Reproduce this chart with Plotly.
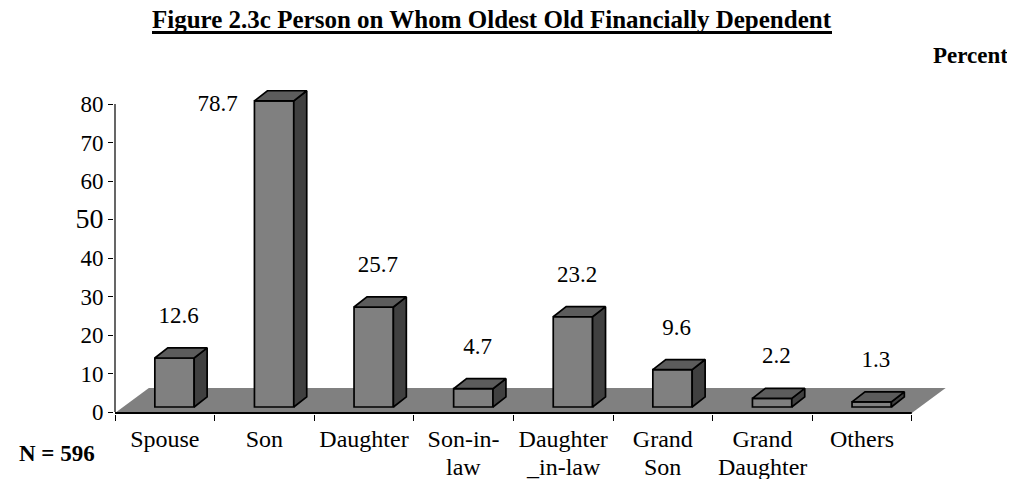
import plotly.graph_objects as go

# ---------------- data ----------------
categories = ["Spouse", "Son", "Daughter", "Son-in-<br>law", "Daughter<br>_in-law",
              "Grand<br>Son", "Grand<br>Daughter", "Others"]
values = [12.6, 78.7, 25.7, 4.7, 23.2, 9.6, 2.2, 1.3]
value_labels = ["12.6", "78.7", "25.7", "4.7", "23.2", "9.6", "2.2", "1.3"]
y_tick_values = [0, 10, 20, 30, 40, 50, 60, 70, 80]
y_tick_labels = ["0", "10", "20", "30", "40",
                 '<span style="font-size:28px">50</span>', "60", "70", "80"]
title_text = "Figure 2.3c Person on Whom Oldest Old Financially Dependent"
unit_text = "Percent"
n_text = "N = 596"

# ---------------- geometry / style ----------------
W, H = 1015, 479
PAGE_OFF = 8                            # default body margin of the html page
L, R, T, B = 114, 950, 78, 414          # plot area in screen pixels
PX_X = 99.6                             # pixels per category
Y_ZERO, Y_SCALE = 412, 3.85             # visible axis: pixel of 0, px per unit
Y2_ZERO, Y2_SCALE = 407, 3.89           # bar axis
FONT = "Liberation Serif"
FRONT, TOP, SIDE = "#808080", "#5c5c5c", "#404040"
BAR_W, BAR_OFF = 0.395, -0.10
DX, DY = 0.13, 2.6                      # bar depth (x units, y2 units)
FLOOR_DX = 0.34
LABEL_DX, LABEL_DY = 0.14, 10.5
TITLE_SIZE = 25
TITLE_RIGHT = 832
TITLE_EM = 27.2                         # approximate width of the title in em
CAT_SIZE = 24
CAT_LINE2_Y = 467                       # screen pixel of second label lines

n = len(categories)
idx = list(range(n))
x0r = -0.5 - 1.0 / PX_X
x_range = [x0r, x0r + (R - L) / PX_X]
y_range = [-(B - Y_ZERO) / Y_SCALE, (Y_ZERO - T) / Y_SCALE]
y2_range = [-(B - Y2_ZERO) / Y2_SCALE, (Y2_ZERO - T) / Y2_SCALE]


def px_x(p):
    return (p - L) / (R - L)


def px_y(p):
    return (B - p) / (B - T)


first_lines = [c.split("<br>")[0] for c in categories]
second_lines = [c.split("<br>", 1)[1] if "<br>" in c else "" for c in categories]

fig = go.Figure()

# floor (parallelogram under the bars)
front_y = -(413 - Y_ZERO) / Y_SCALE
back_y = (Y_ZERO - 388) / Y_SCALE
xl, xr = -0.5, n - 0.5
fig.add_trace(go.Scatter(
    x=[xl, xr, xr + FLOOR_DX, xl + FLOOR_DX, xl],
    y=[front_y, front_y, back_y, back_y, front_y],
    fill="toself", fillcolor=FRONT, mode="lines", line=dict(width=0, color=FRONT),
    hoverinfo="skip", showlegend=False))
# x axis line (front edge of floor)
fig.add_trace(go.Scatter(x=[xl, xr], y=[front_y, front_y], mode="lines",
                         line=dict(color="black", width=2), hoverinfo="skip", showlegend=False))
# y axis line
fig.add_trace(go.Scatter(x=[xl, xl], y=[y_tick_values[0], y_tick_values[-1]], mode="lines",
                         line=dict(color="black", width=1.2), hoverinfo="skip", showlegend=False))

# bars (front faces)
fig.add_trace(go.Bar(x=idx, y=values, width=BAR_W, offset=BAR_OFF, yaxis="y2",
                     marker=dict(color=FRONT, line=dict(color="black", width=1.7)),
                     hoverinfo="skip", showlegend=False))

# side and top faces derived from the values
sx, sy, tx, ty = [], [], [], []
for i, v in zip(idx, values):
    a = i + BAR_OFF
    b = a + BAR_W
    sx += [b, b + DX, b + DX, b, b, None]
    sy += [0, DY, v + DY, v, 0, None]
    tx += [a, a + DX, b + DX, b, a, None]
    ty += [v, v + DY, v + DY, v, v, None]
fig.add_trace(go.Scatter(x=sx, y=sy, yaxis="y2", fill="toself", fillcolor=SIDE, mode="lines",
                         line=dict(color="black", width=1.7), hoverinfo="skip", showlegend=False))
fig.add_trace(go.Scatter(x=tx, y=ty, yaxis="y2", fill="toself", fillcolor=TOP, mode="lines",
                         line=dict(color="black", width=1.7), hoverinfo="skip", showlegend=False))

# value labels: above the bar, or to its left when there is no room above
lx, ly = [], []
for i, v in zip(idx, values):
    if v + LABEL_DY + 3 > y2_range[1]:
        lx.append(i - 0.47)
        ly.append(v - 1)
    else:
        lx.append(i + LABEL_DX)
        ly.append(v + LABEL_DY)
fig.add_trace(go.Scatter(x=lx, y=ly, yaxis="y2", mode="text", text=value_labels,
                         textfont=dict(family=FONT, size=23, color="black"),
                         hoverinfo="skip", showlegend=False, cliponaxis=False))

title_w = TITLE_EM * TITLE_SIZE
title_left = TITLE_RIGHT - title_w

annotations = [
    dict(text="<b>" + title_text + "</b>", x=px_x(title_left + title_w / 2), y=px_y(20),
         xref="paper", yref="paper", xanchor="center", yanchor="middle",
         showarrow=False, font=dict(family=FONT, size=TITLE_SIZE, color="black")),
    dict(text="<b>" + unit_text + "</b>", x=px_x(1010), y=px_y(55),
         xref="paper", yref="paper", xanchor="right", yanchor="middle",
         showarrow=False, font=dict(family=FONT, size=23, color="black")),
    dict(text="<b>" + n_text + "</b>", x=px_x(17), y=px_y(453),
         xref="paper", yref="paper", xanchor="left", yanchor="middle",
         showarrow=False, font=dict(family=FONT, size=23, color="black")),
]
# second lines of the wrapped category labels
for i, s in zip(idx, second_lines):
    if s:
        annotations.append(dict(text=s, x=i, xref="x", y=px_y(CAT_LINE2_Y), yref="paper",
                                xanchor="center", yanchor="middle", showarrow=False,
                                font=dict(family=FONT, size=CAT_SIZE, color="black")))

fig.update_layout(
    template="none",
    width=W, height=H,
    margin=dict(l=L - PAGE_OFF, r=W - (R - PAGE_OFF), t=T - PAGE_OFF, b=H - (B - PAGE_OFF),
                pad=0, autoexpand=False),
    paper_bgcolor="white", plot_bgcolor="white",
    font=dict(family=FONT, color="black"),
    xaxis=dict(range=x_range, tickmode="array", tickvals=idx, ticktext=first_lines,
               ticks="", showline=False, showgrid=False, zeroline=False, automargin=False,
               tickfont=dict(family=FONT, size=CAT_SIZE, color="black"),
               ticklabelstandoff=8,
               minor=dict(tickmode="array", tickvals=[k - 0.5 for k in range(n + 1)],
                          ticks="outside", ticklen=6, tickwidth=1, tickcolor="black",
                          showgrid=False)),
    yaxis=dict(range=y_range, tickmode="array", tickvals=y_tick_values, ticktext=y_tick_labels,
               ticks="outside", ticklen=5, tickwidth=1, tickcolor="black",
               showline=False, showgrid=False, zeroline=False, automargin=False,
               tickfont=dict(family=FONT, size=23, color="black")),
    yaxis2=dict(range=y2_range, overlaying="y", visible=False, showgrid=False,
                zeroline=False, automargin=False),
    annotations=annotations,
    shapes=[
        # title underline
        dict(type="line", xref="paper", yref="paper",
             x0=px_x(title_left), x1=px_x(TITLE_RIGHT), y0=px_y(32.5), y1=px_y(32.5),
             line=dict(color="black", width=3)),
    ],
)

fig.write_html("out.html")
